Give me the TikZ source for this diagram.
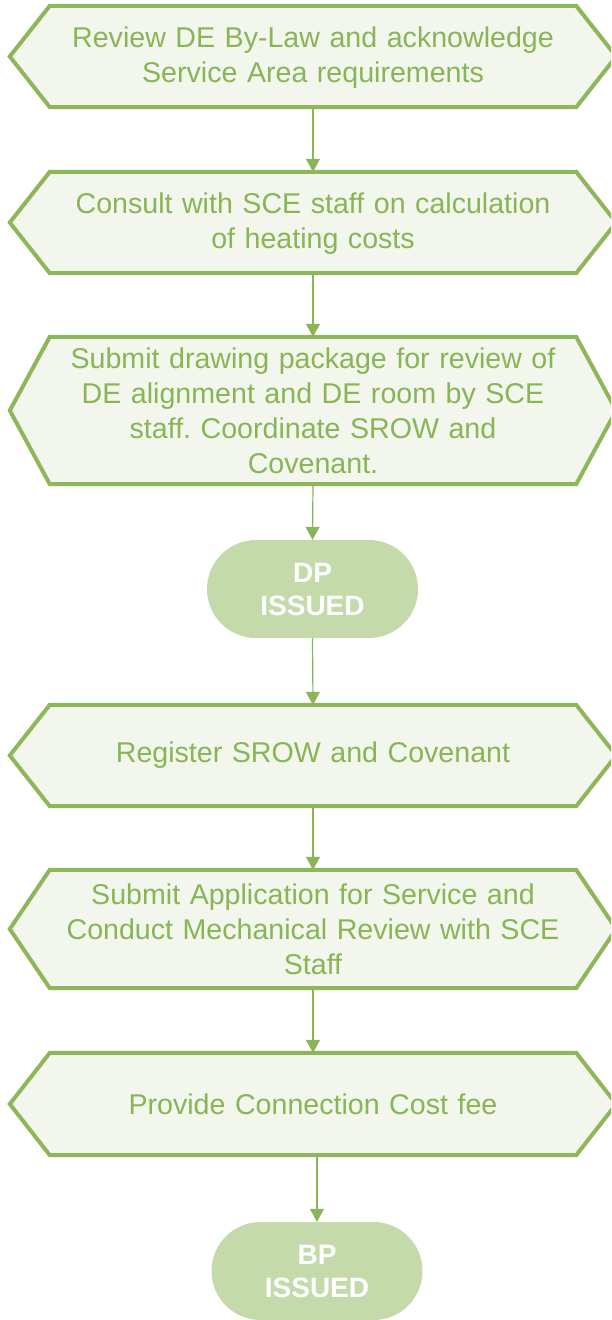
\documentclass[tikz,border=0pt]{standalone}
\usepackage{fontspec}
\setmainfont{Liberation Sans}
\frenchspacing
\usetikzlibrary{arrows.meta,calc}
\definecolor{gborder}{HTML}{8DB75A}
\definecolor{gfill}{HTML}{F2F6EC}
\definecolor{gtext}{HTML}{88B555}
\definecolor{gterm}{HTML}{C5DAAA}
\definecolor{gline}{HTML}{8AB458}
\tikzset{
  hexbox/.style={rectangle, draw=none, minimum width=526pt, inner sep=0pt,
    text width=540pt, align=center, text=gtext,
    font=\fontsize{28.6pt}{35pt}\selectfont},
  hexline/.style={draw=gborder, fill=gfill, line width=4pt, line join=miter},
  term/.style={rectangle, rounded corners=49pt, fill=gterm, draw=none,
    minimum width=211pt, minimum height=98pt, inner sep=0pt, align=center,
    text=white, font=\fontsize{28pt}{33pt}\selectfont\bfseries},
  conn/.style={draw=gline, line width=1.2pt, -{Triangle[width=14pt,length=13pt]}}
}
\newcommand{\hexdraw}[1]{%
  \path[hexline] (#1.north west) -- (#1.north east) -- ($(#1.east)+(40pt,0)$)
    -- (#1.south east) -- (#1.south west) -- ($(#1.west)+(-40pt,0)$) -- cycle;}
\begin{document}
\begin{tikzpicture}[x=1pt,y=-1pt]
\clip (0,0) rectangle (611,1320);
\fill[white] (0,0) rectangle (611,1320);
% nodes
\node[hexbox, minimum height=101pt, text width=520pt] (h1) at (313,56.5) {\phantom{X}};
\node[hexbox, minimum height=101pt, text width=520pt] (h2) at (313,222.5) {\phantom{X}};
\node[hexbox, minimum height=147pt, text width=520pt] (h3) at (313,410.5) {\phantom{X}};
\node[hexbox, minimum height=101pt, text width=520pt] (h4) at (313,755.5) {\phantom{X}};
\node[hexbox, minimum height=118pt, text width=520pt] (h5) at (313,929) {\phantom{X}};
\node[hexbox, minimum height=102pt, text width=520pt] (h6) at (313,1104) {\phantom{X}};
\hexdraw{h1}\hexdraw{h2}\hexdraw{h3}\hexdraw{h4}\hexdraw{h5}\hexdraw{h6}
\node[hexbox] at ([yshift=-1pt]h1) {Review DE By-Law and acknowledge\\Service Area requirements};
\node[hexbox] at ([yshift=-1pt]h2) {Consult with SCE staff on calculation\\of heating costs};
\node[hexbox] at (h3) {Submit drawing package for review of\\DE alignment and DE room by SCE\\staff. Coordinate SROW and\\Covenant.};
\node[hexbox] at (h4) {Register SROW and Covenant};
\node[hexbox] at (h5) {Submit Application for Service and\\Conduct Mechanical Review with SCE\\Staff};
\node[hexbox] at (h6) {Provide Connection Cost fee};
\node[term] (dp) at (312.5,589) {DP\\ISSUED};
\node[term] (bp) at (317,1271) {BP\\ISSUED};
% connectors
\draw[conn] (h1.south) -- (h2.north);
\draw[conn] (h2.south) -- (h3.north);
\draw[conn] (h3.south) -- (dp.north);
\draw[conn] (dp.south) -- (h4.north);
\draw[conn] (h4.south) -- (h5.north);
\draw[conn] (h5.south) -- (h6.north);
\coordinate (h6b) at ($(h6.south)+(4pt,0)$);
\draw[conn] (h6b) -- (bp.north);
\end{tikzpicture}
\end{document}
